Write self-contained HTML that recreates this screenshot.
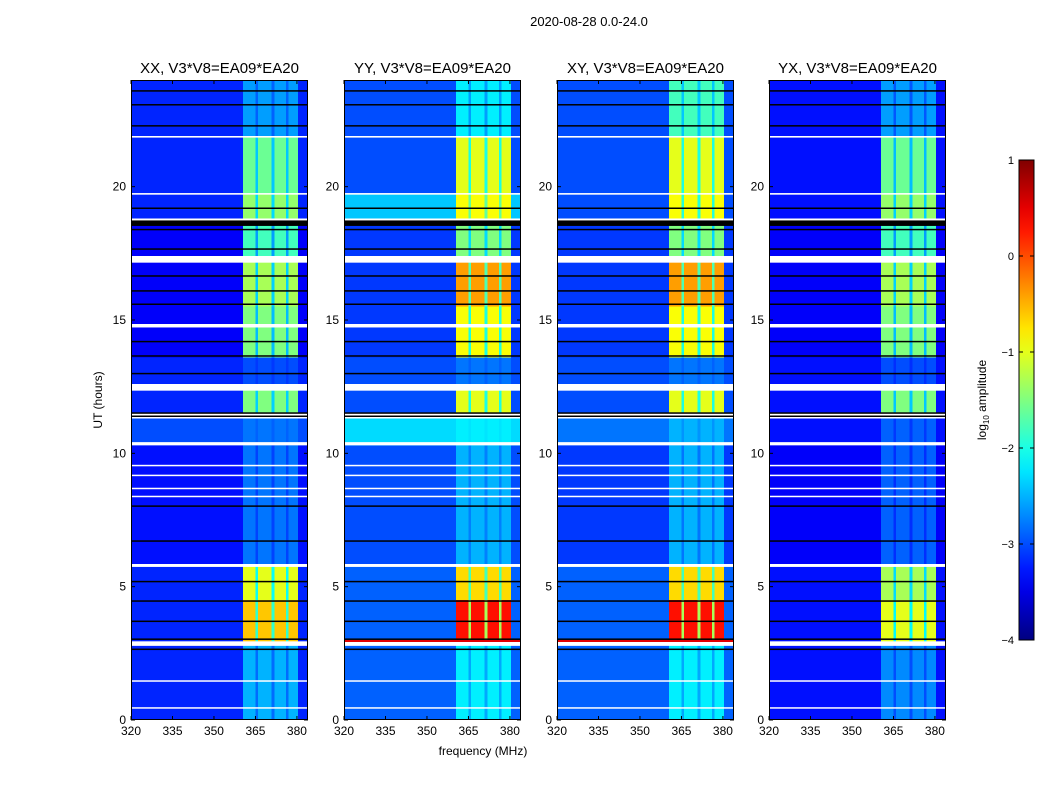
<!DOCTYPE html>
<html><head><meta charset="utf-8">
<style>
body{margin:0;background:#fff;width:1050px;height:800px;overflow:hidden;font-family:"Liberation Sans",sans-serif}
svg text{font-family:"Liberation Sans",sans-serif}
</style></head>
<body>
<svg id="fig" width="1050" height="800" xmlns="http://www.w3.org/2000/svg">
<text x="589" y="26" font-size="13" text-anchor="middle">2020-08-28 0.0-24.0</text>
<text x="483" y="755" font-size="12" text-anchor="middle">frequency (MHz)</text>
<text transform="translate(102,400) rotate(-90)" font-size="12" text-anchor="middle">UT (hours)</text>
<g id="panels"></g>
<g id="cbar"></g>
</svg>
<script>
// ---- data ----
const panelTitles = ["XX, V3*V8=EA09*EA20","YY, V3*V8=EA09*EA20","XY, V3*V8=EA09*EA20","YX, V3*V8=EA09*EA20"];
const segStart = [21.9, 19.75, 18.8, 17.4, 15.5, 13.6, 12.6, 11.5, 10.3, 5.85, 4.5, 2.95, 0];
const segEnd   = [24,   21.85, 19.7, 18.6, 17.15, 15.5, 13.6, 12.35, 11.3, 10.3, 5.75, 4.5, 2.8];
const bgXX  = [-3.2,-3.2,-3.2,-3.4,-3.4,-3.4,-3.2,-3.2,-3.0,-3.3,-3.2,-3.2,-3.2];
const bgYY  = [-3.0,-3.0,-2.4,-3.1,-3.1,-3.1,-3.0,-3.0,-2.3,-3.0,-2.9,-2.9,-2.9];
const bgXY  = [-3.0,-3.0,-3.0,-3.1,-3.1,-3.1,-3.0,-3.0,-2.8,-3.1,-2.9,-2.9,-2.9];
const bgYX  = [-3.3,-3.3,-3.3,-3.4,-3.4,-3.4,-3.3,-3.3,-3.3,-3.4,-3.3,-3.3,-3.3];
const rfiXX = [-2.6,-1.6,-1.4,-1.8,-1.3,-1.5,-3.0,-1.5,-2.8,-2.8,-1.0,-0.6,-2.5];
const rfiYY = [-2.2,-1.0,-0.9,-1.5,-0.4,-0.9,-2.8,-1.0,-2.2,-2.5,-0.7, 0.3,-2.2];
const rfiXY = [-1.8,-1.0,-0.9,-1.5,-0.4,-0.9,-2.8,-1.0,-2.5,-2.5,-0.7, 0.3,-2.2];
const rfiYX = [-2.6,-1.6,-1.4,-1.8,-1.3,-1.5,-3.0,-1.5,-2.9,-2.9,-1.3,-1.0,-2.7];
const bandStart = [320, 360.5, 365, 366, 370.8, 371.8, 376, 377, 380.3];
const bandEnd   = [360.5, 365, 366, 370.8, 371.8, 376, 377, 380.3, 384];
const bandKind  = ["bg","rfi","notch","rfi","notch","rfi","notch","rfi","bg"];
const whiteGaps0 = [21.84,19.7,17.15,14.72,12.35,10.3,9.52,9.15,8.66,8.36,5.74,2.78,1.44,0.43];
const whiteGaps1 = [21.9,19.76,17.4,14.85,12.6,10.42,9.57,9.2,8.71,8.41,5.85,2.95,1.49,0.48];
const blackLines = [23.6,23.08,22.29,19.2,18.64,18.4,17.67,16.66,16.1,15.6,14.2,13.66,13.0,11.52,11.4,8.03,6.72,5.2,4.47,3.71,3.04,2.66];
const blackWidth = [1,1,1,1,5,1,1,1,1,1,1,1,1,1,1,1,1,1,1,1,1,1];
const xTicks = [320,335,350,365,380];
const yTicks = [0,5,10,15,20];
const cbTicks = [-4,-3,-2,-1,0,1];

const panelX = [131,344,557,769];
const PW = 177, PT = 80, PB = 720;
const bgs=[bgXX,bgYY,bgXY,bgYX], rfis=[rfiXX,rfiYY,rfiXY,rfiYX];
const NS="http://www.w3.org/2000/svg";
function jet(v){let t=(v+4)/5;t=Math.max(0,Math.min(1,t));
 const c=x=>Math.round(255*Math.max(0,Math.min(1,x)));
 const r=1.5-Math.abs(4*t-3),g=1.5-Math.abs(4*t-2),b=1.5-Math.abs(4*t-1);
 return `rgb(${c(r)},${c(g)},${c(b)})`;}
function mk(tag,attrs,parent){const e=document.createElementNS(NS,tag);for(const k in attrs)e.setAttribute(k,attrs[k]);parent.appendChild(e);return e;}
const yS=h=>PB-(h/24)*(PB-PT);
const panels=document.getElementById('panels');
for(let p=0;p<4;p++){
 const x0=panelX[p], xS=f=>x0+(f-320)/(384-320)*PW;
 const g=mk('g',{},panels);
 
 
 mk('rect',{x:x0,y:PT,width:PW,height:PB-PT,fill:'#fff'},g);
 for(let s=0;s<segStart.length;s++){
  for(let b=0;b<bandStart.length;b++){
   let v=bandKind[b]==="bg"?bgs[p][s]:(bandKind[b]==="rfi"?rfis[p][s]:Math.min(rfis[p][s],(rfis[p][s]+bgs[p][s])/2));
   const r=mk('rect',{x:xS(bandStart[b]),y:yS(segEnd[s]),width:xS(bandEnd[b])-xS(bandStart[b]),height:yS(segStart[s])-yS(segEnd[s]),fill:jet(v),'shape-rendering':'crispEdges'},g);
   
   
  }
 }
 for(let i=0;i<whiteGaps0.length;i++){
  const r=mk('rect',{x:x0,y:yS(whiteGaps1[i]),width:PW,height:Math.max(1.5,yS(whiteGaps0[i])-yS(whiteGaps1[i])),fill:'#fff'},g);
  
  
 }
 for(let i=0;i<blackLines.length;i++){
  const r=mk('rect',{x:x0,y:yS(blackLines[i])-blackWidth[i]/2,width:PW,height:blackWidth[i]+0.5,fill:'#000'},g);
  
  
 }
 if(p===1||p===2){const r=mk('rect',{x:x0,y:yS(3.0),width:PW,height:2,fill:jet(0.5)},g);
  }
 mk('rect',{x:x0+0.5,y:PT+0.5,width:PW-1,height:PB-PT-1,fill:'none',stroke:'#000','stroke-width':1},g);
 const t=mk('text',{x:x0+PW/2,y:73,'font-size':15,'text-anchor':'middle'},g);t.textContent=panelTitles[p];
 
 for(const f of xTicks){const x=xS(f);
  mk('line',{x1:x,x2:x,y1:PB,y2:PB-4,stroke:'#000'},g);mk('line',{x1:x,x2:x,y1:PT,y2:PT+4,stroke:'#000'},g);
  const l=mk('text',{x:x,y:PB+15,'font-size':12,'text-anchor':'middle'},g);l.textContent=f;
  }
 for(const h of yTicks){const y=yS(h);
  mk('line',{x1:x0,x2:x0+4,y1:y,y2:y,stroke:'#000'},g);mk('line',{x1:x0+PW,x2:x0+PW-4,y1:y,y2:y,stroke:'#000'},g);
  const l=mk('text',{x:x0-5,y:y+4,'font-size':12,'text-anchor':'end'},g);l.textContent=h;
  }
}
// colorbar
const cb=document.getElementById('cbar');


const CX=1019,CW=15,CT=160,CB=640;
const defs=mk('defs',{},cb);const gr=mk('linearGradient',{id:'jg',x1:0,y1:1,x2:0,y2:0},defs);
for(let i=0;i<=20;i++){mk('stop',{offset:i/20,'stop-color':jet(-4+5*i/20)},gr);}
mk('rect',{x:CX,y:CT,width:CW,height:CB-CT,fill:'url(#jg)',stroke:'#000','stroke-width':1},cb);
for(const v of cbTicks){const y=CB-(v+4)/5*(CB-CT);
 mk('line',{x1:CX,x2:CX+4,y1:y,y2:y,stroke:'#000'},cb);mk('line',{x1:CX+CW,x2:CX+CW-4,y1:y,y2:y,stroke:'#000'},cb);
 const l=mk('text',{x:CX-5,y:y+4,'font-size':11,'text-anchor':'end'},cb);l.textContent=v<0?'\u2212'+(-v):v;
 }
const cl=mk('text',{transform:'translate(986,400) rotate(-90)','font-size':12,'text-anchor':'middle'},cb);
cl.innerHTML='log<tspan font-size="8" dy="3">10</tspan><tspan dy="-3"> amplitude</tspan>';

</script>
</body></html>
